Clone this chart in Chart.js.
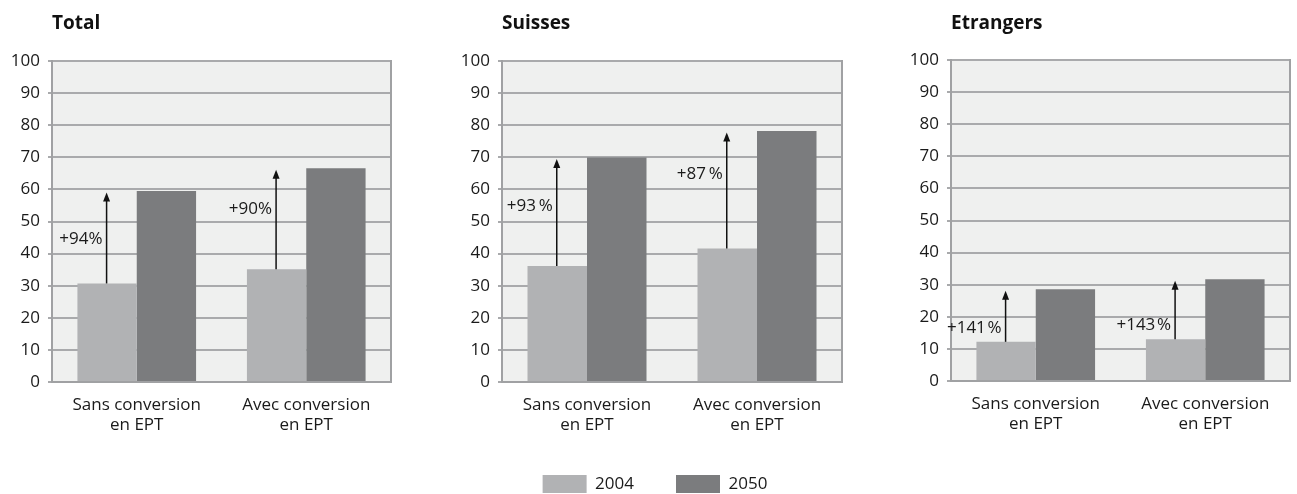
<!DOCTYPE html>
<html><head><meta charset="utf-8">
<script src="https://cdn.jsdelivr.net/npm/chart.js@4/dist/chart.umd.min.js"></script>
<style>
html,body{margin:0;padding:0;background:#fff;overflow:hidden;width:1297px;height:494px;position:relative;}
canvas{position:absolute;top:0;}
</style></head><body>
<canvas id="c1" width="400" height="442" style="left:0px;width:400px;height:442px"></canvas>
<canvas id="c2" width="389" height="503" style="left:460px;width:389px;height:503px"></canvas>
<canvas id="c3" width="392" height="442" style="left:905px;width:392px;height:442px"></canvas>
<script>
// ---- data ----
const CATEGORIES = [["Sans conversion", "en EPT"], ["Avec conversion", "en EPT"]];
const SERIES_NAMES = ["2004", "2050"];
const TITLES = ["Total", "Suisses", "Etrangers"];
const Y_MIN = 0, Y_MAX = 100, Y_STEP = 10;

const TOTAL_2004 = [30.7, 35.1];
const TOTAL_2050 = [59.5, 66.6];
const SUISSES_2004 = [36.1, 41.6];
const SUISSES_2050 = [69.9, 78.2];
const ETRANGERS_2004 = [12.2, 13.0];
const ETRANGERS_2050 = [28.6, 31.7];

const TOTAL_GROWTH = ["+94%", "+90%"];
const SUISSES_GROWTH = ["+93\u2009%", "+87\u2009%"];
const ETRANGERS_GROWTH = ["+141\u200A%", "+143\u200A%"];

// value at which each growth label sits (annotation anchors)
const TOTAL_LABEL_AT = [44.6, 54.0];
const SUISSES_LABEL_AT = [54.7, 64.6];
const ETRANGERS_LABEL_AT = [16.5, 17.3];

// ---- styles ----
const COLOR_2004 = '#b1b2b4';
const COLOR_2050 = '#7b7c7e';
const PLOT_BG = '#eff0ef';
const GRID = '#a9aaac';
const BORDER = '#a0a1a3';
const TEXT = '#1a1a1a';
const FONT = "'Open Sans', sans-serif";

Chart.defaults.font.family = FONT;
Chart.defaults.color = TEXT;

const plotFrame = {
  id: 'plotFrame',
  beforeDraw(chart) {
    const a = chart.chartArea, ctx = chart.ctx;
    ctx.save();
    ctx.fillStyle = PLOT_BG;
    ctx.fillRect(a.left, a.top, a.right - a.left, a.bottom - a.top);
    ctx.restore();
  },
  afterDraw(chart) {
    const a = chart.chartArea, ctx = chart.ctx;
    ctx.save();
    ctx.strokeStyle = BORDER;
    ctx.lineWidth = 2;
    ctx.beginPath();
    ctx.moveTo(Math.round(a.right), a.top - 1);
    ctx.lineTo(Math.round(a.right), a.bottom + 1);
    ctx.stroke();
    ctx.restore();
  }
};

// nudges the legend box horizontally after layout
const legendShift = {
  id: 'legendShift',
  afterLayout(chart, args, opts) {
    const lg = chart.legend;
    if (lg && lg.options.display && opts.dx) { lg.left += opts.dx; lg.right += opts.dx; }
  }
};

const growthArrows = {
  id: 'growthArrows',
  afterDatasetsDraw(chart, args, opts) {
    const ctx = chart.ctx, ys = chart.scales.y;
    const from = chart.data.datasets[0].data, to = chart.data.datasets[1].data;
    const meta = chart.getDatasetMeta(0);
    ctx.save();
    meta.data.forEach((bar, i) => {
      const x = bar.x - 0.5;
      const y0 = ys.getPixelForValue(from[i]);
      const tip = ys.getPixelForValue(to[i]) + 1.5;
      const headH = 9, headW = 3.5;
      ctx.strokeStyle = '#111';
      ctx.fillStyle = '#111';
      ctx.lineWidth = 1.5;
      ctx.beginPath();
      ctx.moveTo(x, y0);
      ctx.lineTo(x, tip + headH - 1);
      ctx.stroke();
      ctx.beginPath();
      ctx.moveTo(x, tip);
      ctx.lineTo(x - headW, tip + headH);
      ctx.lineTo(x + headW, tip + headH);
      ctx.closePath();
      ctx.fill();
      ctx.font = '17px ' + FONT;
      ctx.fillStyle = TEXT;
      ctx.textAlign = 'right';
      ctx.textBaseline = 'middle';
      ctx.fillText(opts.labels[i], x - 4, ys.getPixelForValue(opts.labelAt[i]));
    });
    ctx.restore();
  }
};

function makePanel(id, title, v2004, v2050, growth, labelAt, L) {
  new Chart(document.getElementById(id), {
    type: 'bar',
    data: {
      labels: CATEGORIES,
      datasets: [
        { label: SERIES_NAMES[0], data: v2004, backgroundColor: COLOR_2004, borderWidth: 0 },
        { label: SERIES_NAMES[1], data: v2050, backgroundColor: COLOR_2050, borderWidth: 0 }
      ]
    },
    options: {
      responsive: false,
      animation: false,
      events: [],
      layout: { padding: { left: 0, right: L.padRight, top: 0, bottom: 0 } },
      datasets: { bar: { categoryPercentage: 0.7, barPercentage: 1.0 } },
      scales: {
        x: {
          grid: { display: false, drawTicks: false },
          border: { display: true, color: BORDER, width: 2 },
          ticks: { font: { size: 17 }, color: TEXT, padding: 13, maxRotation: 0, autoSkip: false },
          afterFit(s) { s.height = L.xHeight; }
        },
        y: {
          min: Y_MIN, max: Y_MAX,
          grid: { color: GRID, lineWidth: 2, tickLength: 4, drawTicks: true },
          border: { display: true, color: BORDER, width: 2 },
          ticks: { stepSize: Y_STEP, font: { size: 17 }, color: TEXT, padding: 8 },
          afterFit(s) { s.width = L.yWidth; }
        }
      },
      plugins: {
        title: {
          display: true, text: title, align: 'start', fullSize: false,
          font: { size: 19, weight: 'bold' }, color: '#111',
          padding: { top: 12, bottom: L.titlePadBottom }
        },
        legend: {
          display: L.legend, position: 'bottom',
          labels: { boxWidth: 44, boxHeight: 18, padding: 42, font: { size: 17 }, color: TEXT }
        },
        legendShift: { dx: 4 },
        tooltip: { enabled: false },
        growthArrows: { labels: growth, labelAt: labelAt }
      }
    },
    plugins: [plotFrame, legendShift, growthArrows]
  });
}

makePanel('c1', TITLES[0], TOTAL_2004, TOTAL_2050, TOTAL_GROWTH, TOTAL_LABEL_AT,
  { yWidth: 52, xHeight: 60, padRight: 9, titlePadBottom: 26.2, legend: false });
makePanel('c2', TITLES[1], SUISSES_2004, SUISSES_2050, SUISSES_GROWTH, SUISSES_LABEL_AT,
  { yWidth: 42, xHeight: 51, padRight: 7, titlePadBottom: 26.2, legend: true });
makePanel('c3', TITLES[2], ETRANGERS_2004, ETRANGERS_2050, ETRANGERS_GROWTH, ETRANGERS_LABEL_AT,
  { yWidth: 46, xHeight: 61, padRight: 7, titlePadBottom: 25.2, legend: false });
</script>
</body></html>
